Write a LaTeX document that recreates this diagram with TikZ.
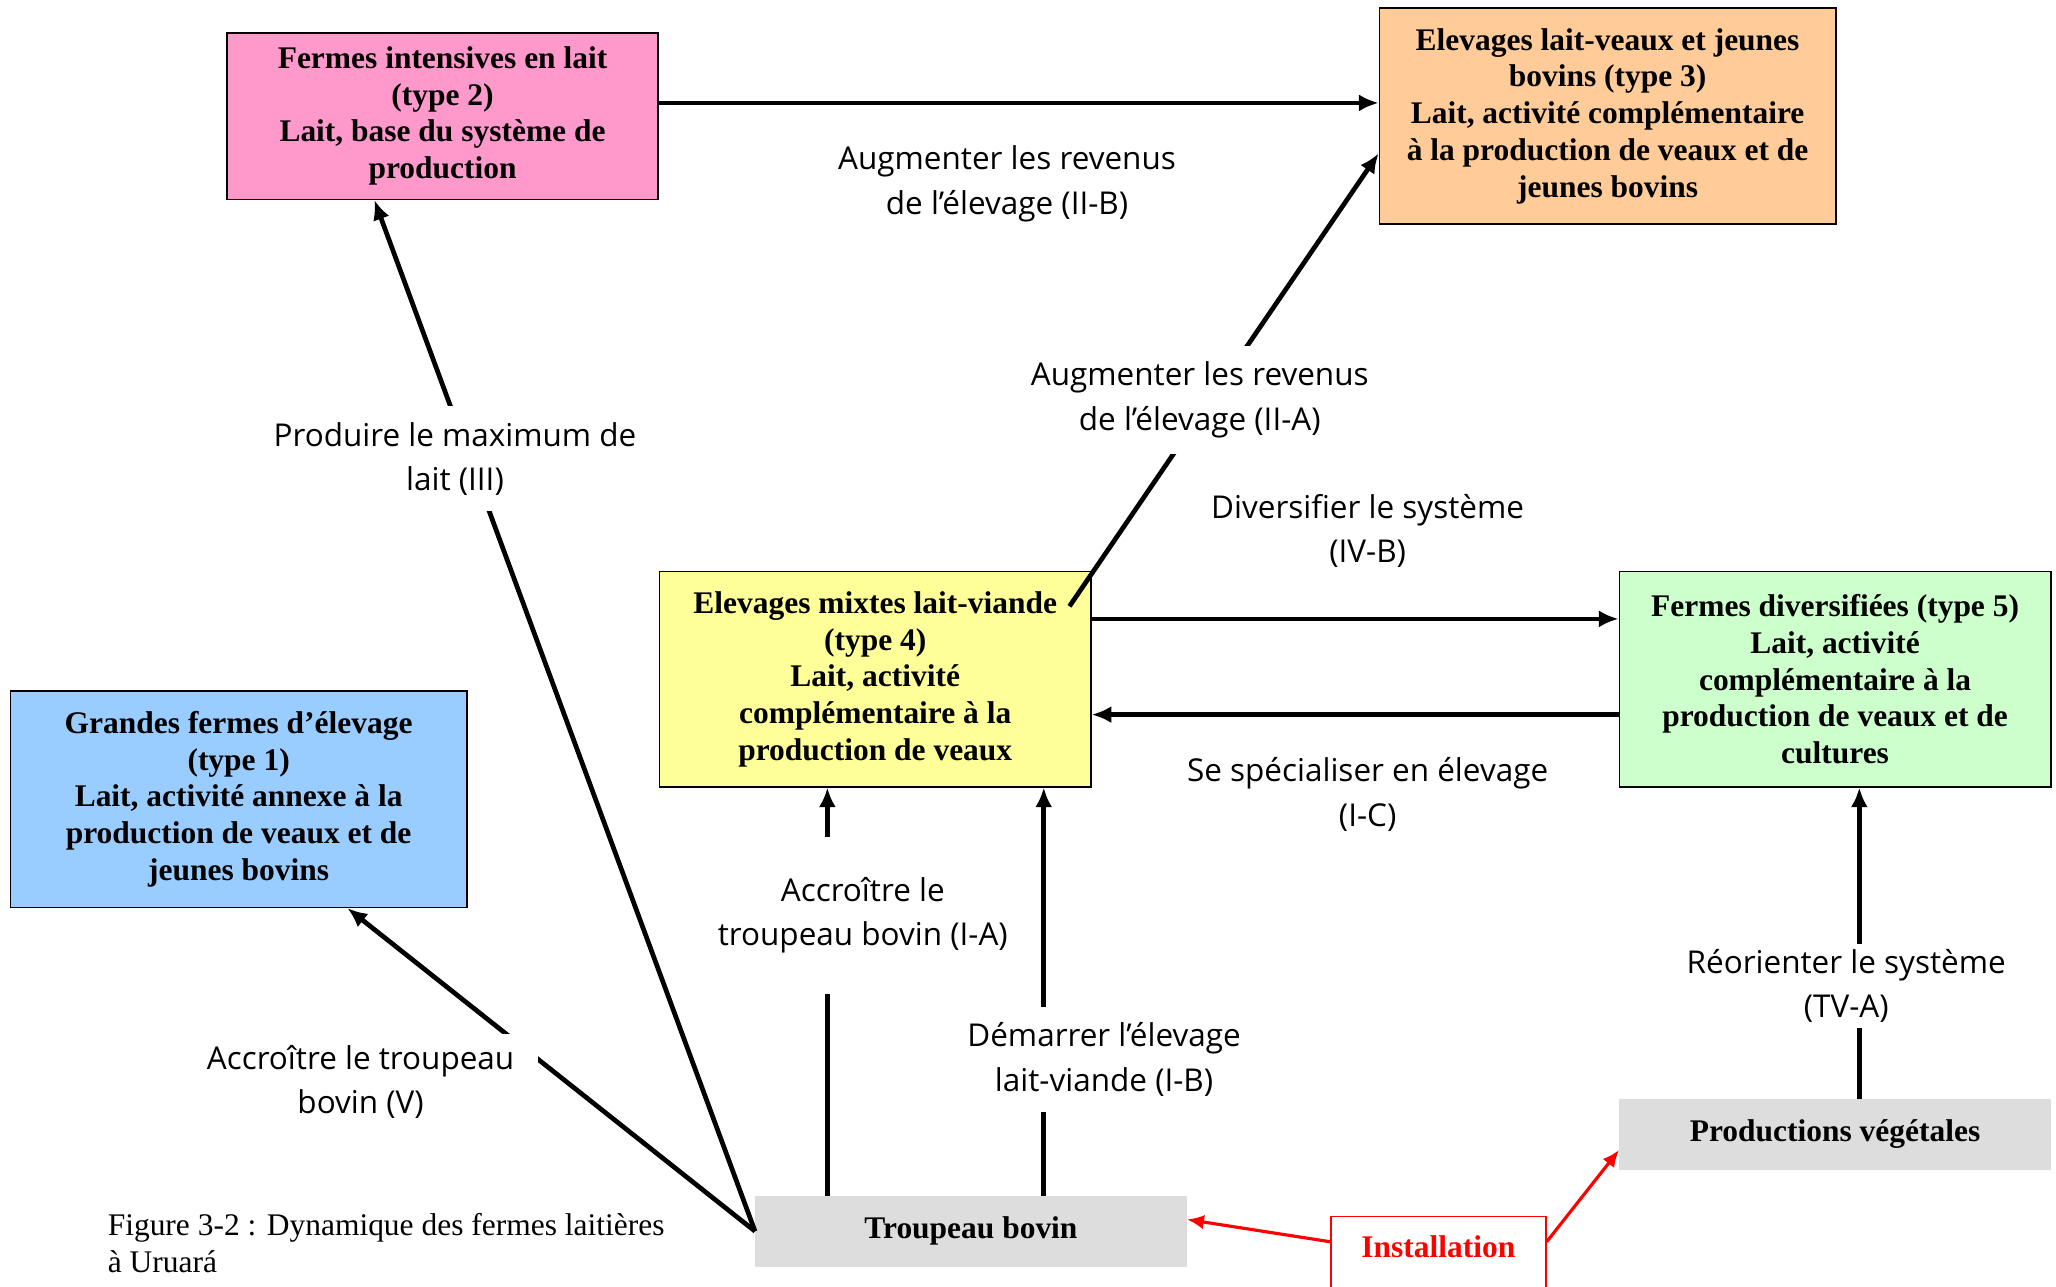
\documentclass[tikz,border=0pt]{standalone}
\usepackage{fontspec}
\setmainfont{Liberation Serif}
\newfontfamily\labelfont{Open Sans}
\usetikzlibrary{arrows.meta}
\definecolor{pinkbox}{HTML}{FF99CC}
\definecolor{orangebox}{HTML}{FFCC99}
\definecolor{yellowbox}{HTML}{FFFF99}
\definecolor{greenbox}{HTML}{CCFFCC}
\definecolor{bluebox}{HTML}{99CCFF}
\definecolor{greybox}{HTML}{DDDDDD}

\begin{document}
\begin{tikzpicture}[x=1pt, y=-1pt,
    box/.style = {draw = black, line width = 1.2pt, align = center, inner sep = 2pt,
        font = \fontsize{24}{28}\selectfont\bfseries},
    source/.style = {fill = greybox, align = center, minimum width = 329pt, minimum height = 54pt,
        font = \fontsize{24}{28}\selectfont\bfseries},
    reason/.style = {fill = white, align = center, inner sep = 8pt,
        font = \labelfont\fontsize{24}{34}\selectfont},
    flow/.style = {line width = 3.6pt, -{Latex[length=15pt,width=13pt]}},
    redflow/.style = {line width = 2.4pt, red, -{Latex[length=13pt,width=11pt]}}]

    \useasboundingbox (0,0) rectangle (1568,981);
    \fill[white] (0,0) rectangle (1568,981);

    \node (type_two) [box, fill = pinkbox, minimum width = 329pt, minimum height = 127pt]
        at (337.5,88.5) {Fermes intensives en lait\\(type 2)\\Lait, base du système de\\production};
    \node (type_three) [box, fill = orangebox, minimum width = 348pt, minimum height = 165pt]
        at (1226,88.5) {Elevages lait-veaux et jeunes\\bovins (type 3)\\Lait, activité complémentaire\\à la production de veaux et de\\jeunes bovins};
    \node (type_four) [box, fill = yellowbox, minimum width = 329pt, minimum height = 164pt]
        at (667.5,518) {Elevages mixtes lait-viande\\(type 4)\\Lait, activité\\complémentaire à la\\production de veaux};
    \node (type_five) [box, fill = greenbox, minimum width = 329pt, minimum height = 164pt]
        at (1399.5,518) {Fermes diversifiées (type 5)\\Lait, activité\\complémentaire à la\\production de veaux et de\\cultures};
    \node (type_one) [box, fill = bluebox, minimum width = 348pt, minimum height = 165pt]
        at (182,609.5) {Grandes fermes d’élevage\\(type 1)\\Lait, activité annexe à la\\production de veaux et de\\jeunes bovins};
    \node (troupeau) [source] at (740.5,939) {Troupeau bovin};
    \node (vegetales) [source] at (1399.5,865) {Productions végétales};
    \node (installation) [draw = red, line width = 1.2pt, fill = white, text = red, anchor = north,
        minimum width = 164pt, text height = 28pt, text depth = 40pt,
        font = \fontsize{24}{28}\selectfont\bfseries] at (1097,927) {Installation};

    \path ([yshift=10pt]type_two.east) edge[flow] ([yshift=10pt]type_three.west);
    \path ([shift={(-17pt,-27pt)}]type_four.north east) edge[flow] ([yshift=-28.5pt]type_three.west);
    \path (troupeau.west) edge[flow] ([xshift=-52pt]type_two.south);
    \path (troupeau.west) edge[flow] ([xshift=83pt]type_one.south);
    \path ([xshift=-109.5pt]troupeau.north) edge[flow] ([xshift=-109.5pt]troupeau.north |- type_four.south);
    \path ([xshift=55.5pt]troupeau.north) edge[flow] ([xshift=55.5pt]troupeau.north |- type_four.south);
    \path ([yshift=46pt]type_four.east) edge[flow] ([yshift=46pt]type_five.west);
    \path ([yshift=-27pt]type_five.west) edge[flow] ([yshift=-27pt]type_four.east);
    \path ([xshift=18.5pt]vegetales.north) edge[flow] ([xshift=18.5pt]type_five.south);
    \path ([yshift=-20pt]installation.north west) edge[redflow] ([yshift=9pt]troupeau.east);
    \path ([yshift=-20pt]installation.north east) edge[redflow] ([yshift=-12pt]vegetales.west);

    \node (revenus_b) [reason] at (768,140) {Augmenter les revenus\\de l’élevage (II-B)};
    \node (revenus_a) [reason, inner ysep = 12pt] at (915,305) {Augmenter les revenus\\de l’élevage (II-A)};
    \node (maximum) [reason, inner ysep = 12pt] at (347,350) {Produire le maximum de\\lait (III)};
    \node (diversifier) [reason] at (1043,405) {Diversifier le système\\(IV-B)};
    \node (specialiser) [reason] at (1043,606) {Se spécialiser en élevage\\(I-C)};
    \node (accroitre_a) [reason, minimum height = 120pt] at (658,698) {Accroître le\\troupeau bovin (I-A)};
    \node (demarrer) [reason, inner ysep = 12pt] at (842,808) {Démarrer l’élevage\\lait-viande (I-B)};
    \node (accroitre_v) [reason, inner xsep = 18pt] at (275,825) {Accroître le troupeau\\bovin (V)};
    \node (reorienter) [reason, inner ysep = 4pt] at (1408,752) {Réorienter le système\\(TV-A)};

    \node (caption) [anchor = north west, align = left, inner sep = 0pt,
        font = \fontsize{24}{28}\selectfont] at (82,925) {Figure 3-2 : Dynamique des fermes laitières\\à Uruará};
\end{tikzpicture}
\end{document}
